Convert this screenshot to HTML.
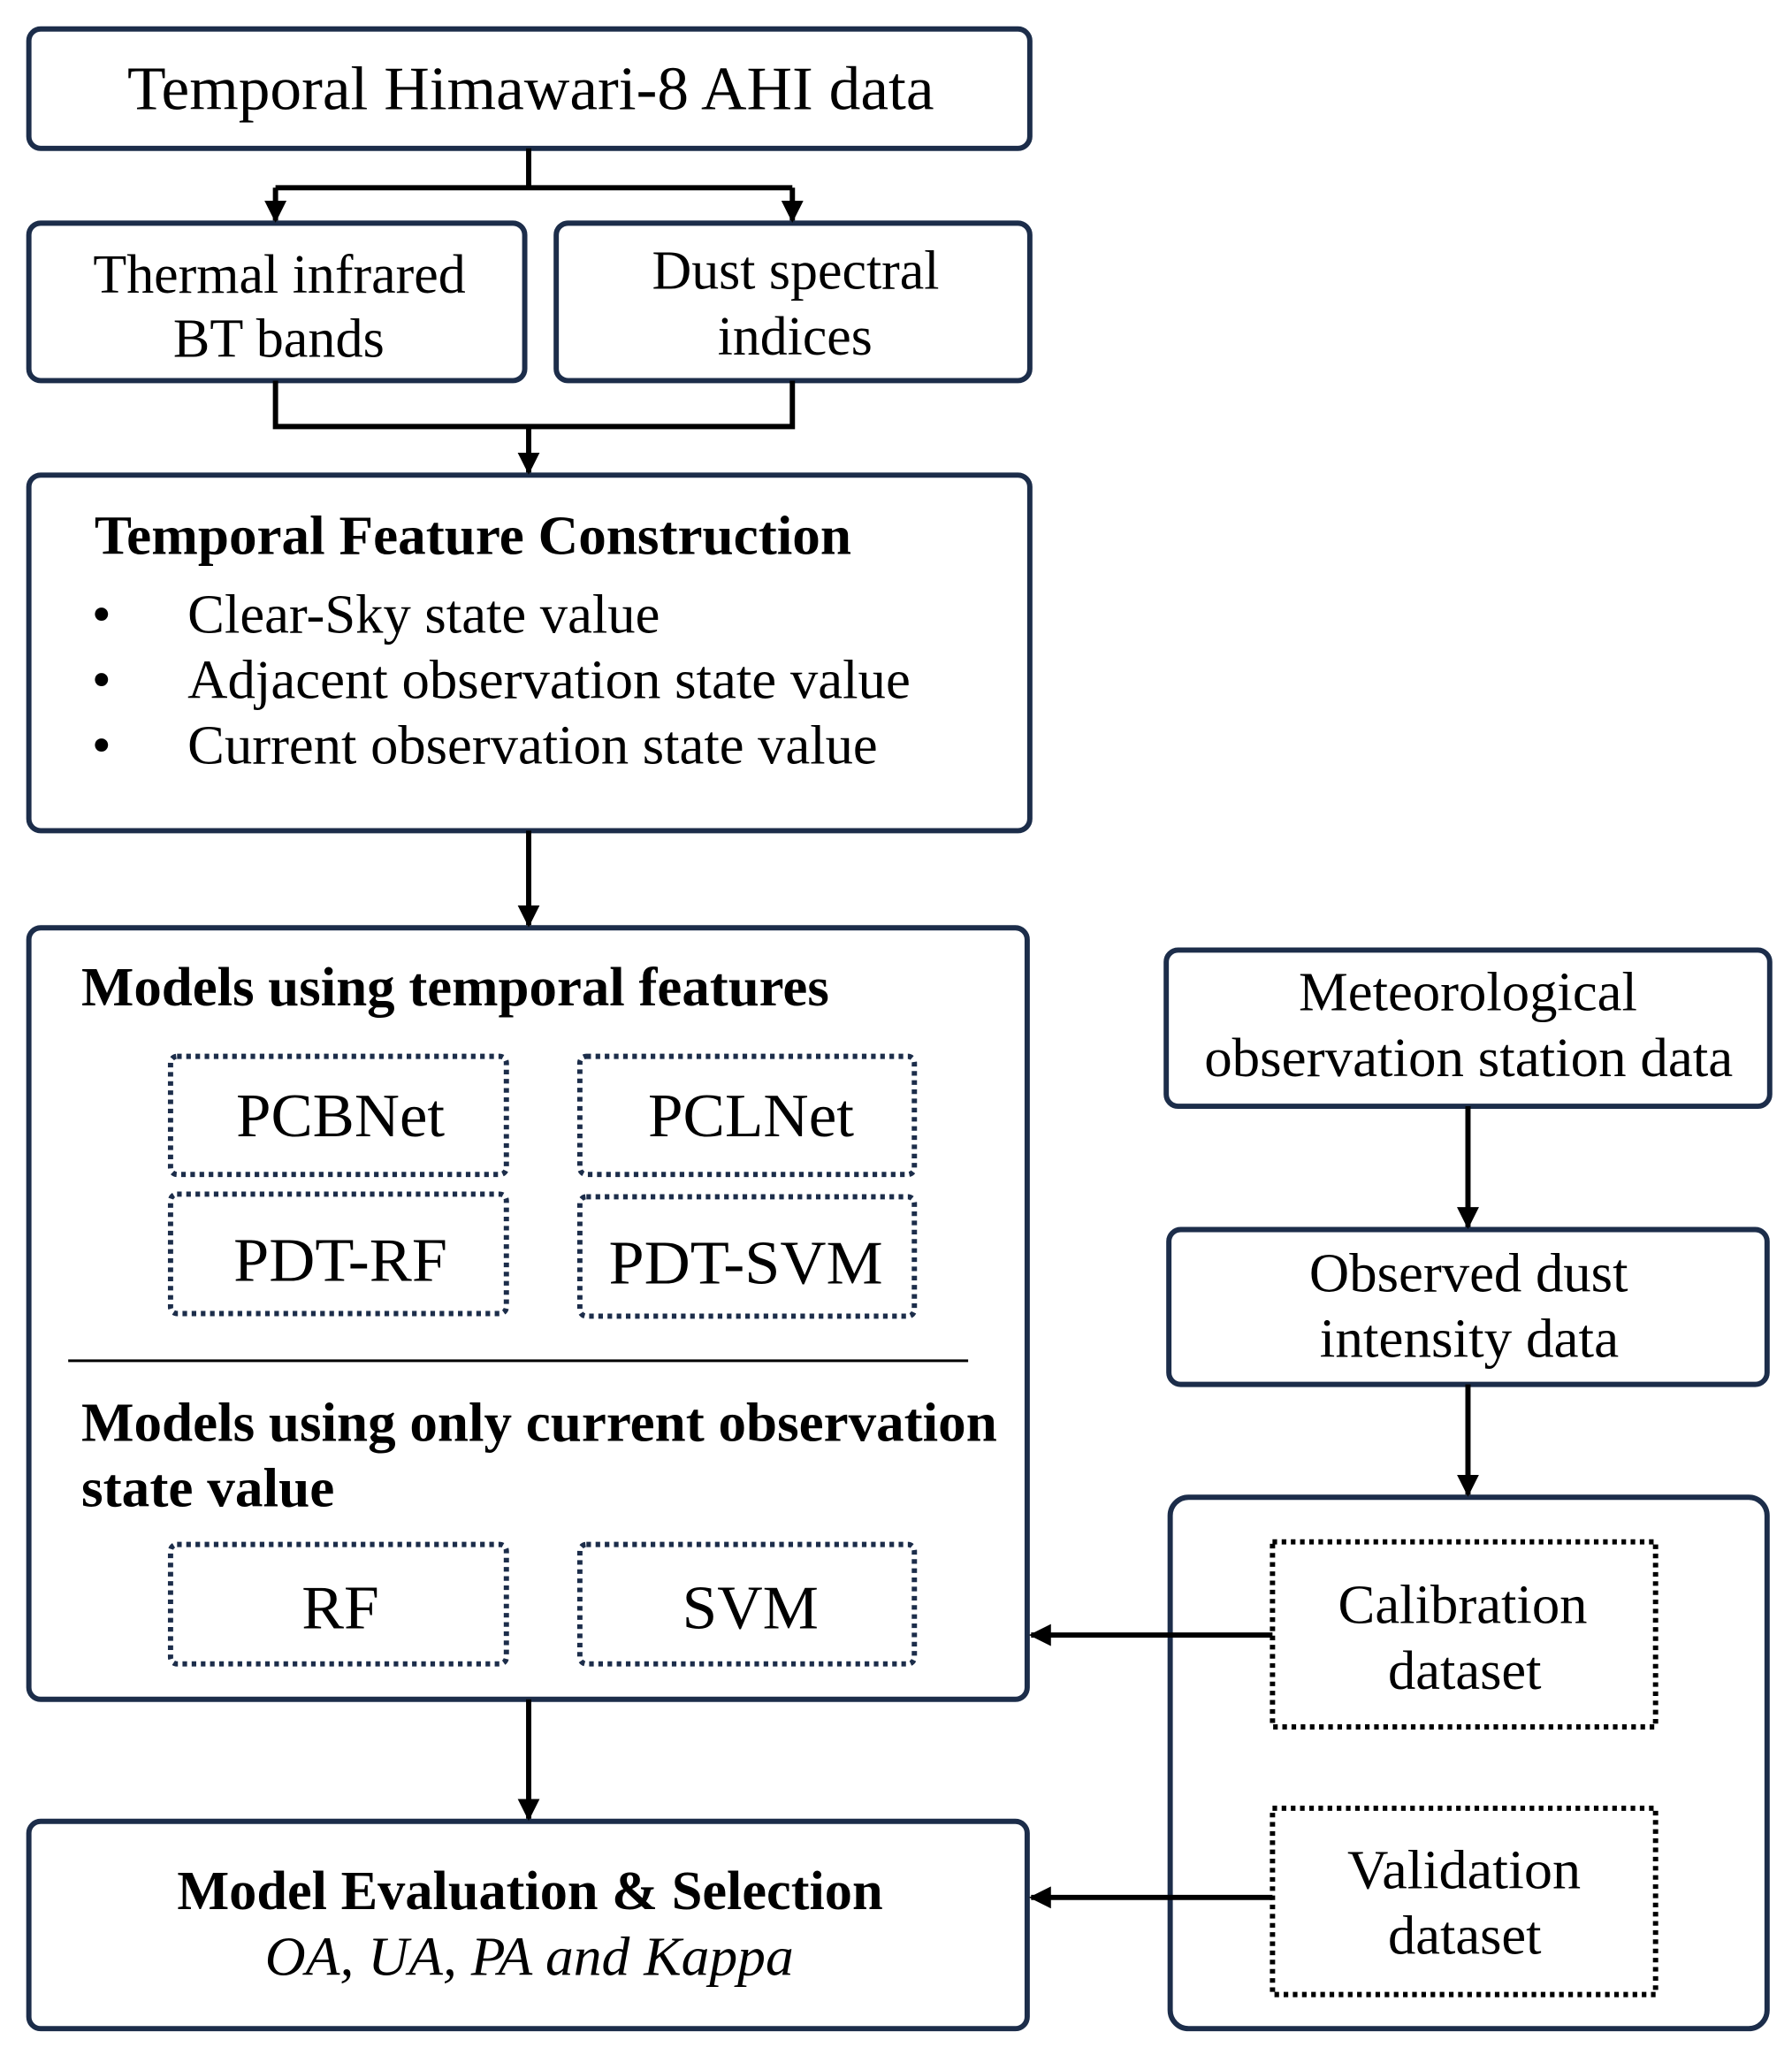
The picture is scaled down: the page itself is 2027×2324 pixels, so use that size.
<!DOCTYPE html>
<html><head><meta charset="utf-8"><style>html,body{margin:0;padding:0;background:#fff}svg{display:block}</style></head>
<body>
<svg width="2027" height="2324" viewBox="0 0 1366 1566" xmlns="http://www.w3.org/2000/svg" font-family="'Liberation Serif', serif">
<defs>
<marker id="ah" viewBox="0 0 10 10" refX="9" refY="5" markerWidth="4.2" markerHeight="4.2" orient="auto" markerUnits="strokeWidth"><path d="M0,0 L10,5 L0,10 z" fill="#000"/></marker>
</defs>
<g fill="none" stroke="#1c2d4a" stroke-width="4">
<rect x="22" y="22" width="763" height="91" rx="9"/>
<rect x="22" y="170" width="378" height="120" rx="9"/>
<rect x="424" y="170" width="361" height="120" rx="9"/>
<rect x="22" y="362" width="763" height="271" rx="9"/>
<rect x="22" y="707" width="761" height="588" rx="9"/>
<rect x="22" y="1388" width="761" height="158" rx="9"/>
<rect x="889" y="724" width="460" height="119" rx="9"/>
<rect x="891" y="937" width="456" height="118" rx="9"/>
<rect x="892" y="1141" width="455" height="405" rx="14"/>
</g>
<g fill="none" stroke="#1c2d4a" stroke-width="4" stroke-dasharray="3.5 3.5">
<rect x="130" y="805" width="256" height="90" rx="5"/>
<rect x="442" y="805" width="255" height="90" rx="5"/>
<rect x="130" y="910" width="256" height="91" rx="5"/>
<rect x="442" y="912" width="255" height="91" rx="5"/>
<rect x="130" y="1177" width="256" height="91" rx="5"/>
<rect x="442" y="1177" width="255" height="91" rx="5"/>
</g>
<g fill="none" stroke="#000" stroke-width="4" stroke-dasharray="3.5 3.5">
<rect x="970" y="1175" width="292" height="141"/>
<rect x="970" y="1378" width="292" height="142"/>
</g>
<line x1="52" y1="1037" x2="738" y2="1037" stroke="#000" stroke-width="2"/>
<g fill="none" stroke="#000" stroke-width="4">
<path d="M403,113 V143 M210,143 H604"/>
<path d="M210,143 V168" marker-end="url(#ah)"/>
<path d="M604,143 V168" marker-end="url(#ah)"/>
<path d="M210,290 V325 H604 V290"/>
<path d="M403,325 V360" marker-end="url(#ah)"/>
<path d="M403,633 V705" marker-end="url(#ah)"/>
<path d="M403,1295 V1386" marker-end="url(#ah)"/>
<path d="M1119,843 V935" marker-end="url(#ah)"/>
<path d="M1119,1055 V1139" marker-end="url(#ah)"/>
<path d="M970,1246 H786" marker-end="url(#ah)"/>
<path d="M970,1446 H786" marker-end="url(#ah)"/>
</g>
<g fill="#000" font-size="42" lengthAdjust="spacingAndGlyphs">
<text x="97" y="83" font-size="47" textLength="615" lengthAdjust="spacingAndGlyphs">Temporal Himawari-8 AHI data</text>
<text x="71" y="223" textLength="284" lengthAdjust="spacingAndGlyphs">Thermal infrared</text>
<text x="132" y="272" textLength="161" lengthAdjust="spacingAndGlyphs">BT bands</text>
<text x="497" y="220" textLength="219" lengthAdjust="spacingAndGlyphs">Dust spectral</text>
<text x="547" y="270" textLength="118" lengthAdjust="spacingAndGlyphs">indices</text>
<text x="180" y="866" font-size="47" textLength="159" lengthAdjust="spacingAndGlyphs">PCBNet</text>
<text x="494" y="866" font-size="47" textLength="157" lengthAdjust="spacingAndGlyphs">PCLNet</text>
<text x="178" y="976" font-size="47" textLength="163" lengthAdjust="spacingAndGlyphs">PDT-RF</text>
<text x="464" y="978" font-size="47" textLength="209" lengthAdjust="spacingAndGlyphs">PDT-SVM</text>
<text x="230" y="1241" font-size="47" textLength="59" lengthAdjust="spacingAndGlyphs">RF</text>
<text x="520" y="1241" font-size="47" textLength="104" lengthAdjust="spacingAndGlyphs">SVM</text>
<text x="990" y="770" textLength="258" lengthAdjust="spacingAndGlyphs">Meteorological</text>
<text x="918" y="820" textLength="403" lengthAdjust="spacingAndGlyphs">observation station data</text>
<text x="998" y="984" textLength="243" lengthAdjust="spacingAndGlyphs">Observed dust</text>
<text x="1006" y="1034" textLength="228" lengthAdjust="spacingAndGlyphs">intensity data</text>
<text x="1020" y="1237" textLength="190" lengthAdjust="spacingAndGlyphs">Calibration</text>
<text x="1058" y="1287" textLength="117" lengthAdjust="spacingAndGlyphs">dataset</text>
<text x="1027" y="1439" textLength="178" lengthAdjust="spacingAndGlyphs">Validation</text>
<text x="1058" y="1489" textLength="117" lengthAdjust="spacingAndGlyphs">dataset</text>
<text x="135" y="1455" font-weight="bold" textLength="538" lengthAdjust="spacingAndGlyphs">Model Evaluation &amp; Selection</text>
<text x="202" y="1505" font-style="italic" textLength="403" lengthAdjust="spacingAndGlyphs">OA, UA, PA and Kappa</text>
<text x="72" y="422" font-weight="bold" textLength="577" lengthAdjust="spacingAndGlyphs">Temporal Feature Construction</text>
<text x="70" y="482">•</text><text x="143" y="482" textLength="360" lengthAdjust="spacingAndGlyphs">Clear-Sky state value</text>
<text x="70" y="532">•</text><text x="143" y="532" textLength="551" lengthAdjust="spacingAndGlyphs">Adjacent observation state value</text>
<text x="70" y="582">•</text><text x="143" y="582" textLength="526" lengthAdjust="spacingAndGlyphs">Current observation state value</text>
<text x="62" y="766" font-weight="bold" textLength="570" lengthAdjust="spacingAndGlyphs">Models using temporal features</text>
<text x="62" y="1098" font-weight="bold" textLength="698" lengthAdjust="spacingAndGlyphs">Models using only current observation</text>
<text x="62" y="1148" font-weight="bold" textLength="193" lengthAdjust="spacingAndGlyphs">state value</text>
</g>
</svg>
</body></html>
